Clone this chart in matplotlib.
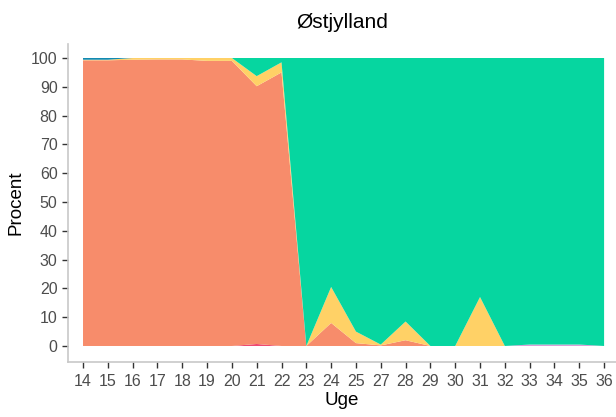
import matplotlib
matplotlib.use("Agg")
import matplotlib.pyplot as plt
import numpy as np

weeks = ["14", "15", "16", "17", "18", "19", "20", "21", "22", "23", "24", "25",
         "27", "28", "29", "30", "31", "32", "33", "34", "35", "36"]
red    = [0, 0, 0, 0, 0, 0, 0, 0.7, 0, 0, 0, 0, 0, 0, 0, 0, 0, 0, 0, 0, 0, 0]
purple = [0, 0, 0, 0, 0, 0, 0, 0, 0, 0, 0, 0, 0, 0, 0, 0, 0, 0, 0.5, 0.5, 0.5, 0]
salmon = [99.2, 99.2, 99.4, 99.5, 99.5, 99, 99, 89.5, 95, 0, 8, 1, 0.2, 2, 0, 0, 0, 0, 0, 0, 0, 0]
yellow = [0.2, 0.2, 0.6, 0.5, 0.5, 1, 1, 3.5, 3.5, 0, 12.5, 4, 0.3, 6.5, 0, 0, 17, 0, 0, 0, 0, 0]
blue   = [0.6, 0.6, 0, 0, 0, 0, 0, 0, 0, 0, 0, 0, 0, 0, 0, 0, 0, 0, 0, 0, 0, 0]
green  = [100 - (a + b + c + d + e) for a, b, c, d, e in zip(red, purple, salmon, yellow, blue)]

colors = ["#ef476f", "#d8a0d8", "#f78c6b", "#ffd166", "#06d6a0", "#118ab2"]

plt.rcParams['font.family'] = ['Liberation Sans', 'DejaVu Sans']
fig = plt.figure(figsize=(6.16, 4.17), dpi=100)
ax = fig.add_axes([68/616, 55/417, 548/616, (362-43.6)/417])

x = np.arange(len(weeks))
ax.stackplot(x, red, purple, salmon, yellow, green, blue, colors=colors, linewidth=0)

ax.set_xlim(-0.605, 21.48)
ax.set_ylim(-5.56, 105)
ax.set_xticks(x)
ax.set_xticklabels(weeks)
ax.set_yticks(np.arange(0, 101, 10))
ax.tick_params(axis='both', colors='#333333', labelcolor='#4d4d4d', labelsize=11.5, length=4, width=1)
ax.tick_params(axis='x', pad=5)
for s in ['top', 'right']:
    ax.spines[s].set_visible(False)
for s in ['left', 'bottom']:
    ax.spines[s].set_color('#c8c8c8')
    ax.spines[s].set_linewidth(1.2)
ax.set_xlabel("Uge", fontsize=13.5, color='black', labelpad=2)
ax.set_ylabel("Procent", fontsize=13.5, color='black', labelpad=5)
fig.text(342/616, 1 - 22/417, "Østjylland", ha='center', va='center', fontsize=15)

fig.savefig("out.png", dpi=100)
